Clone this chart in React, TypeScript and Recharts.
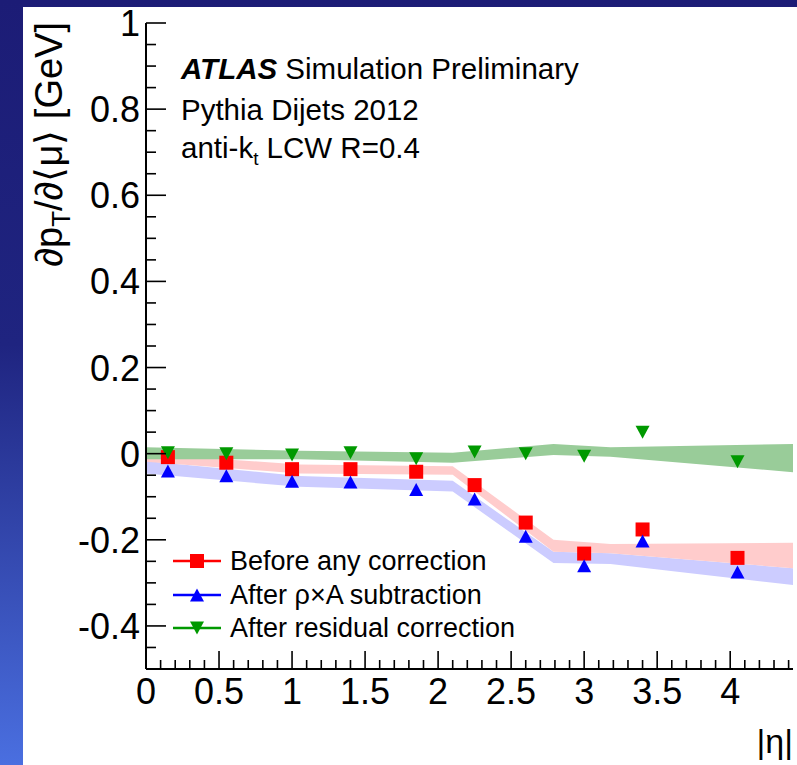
import React from 'react'
import { Area, ComposedChart, Scatter, XAxis, YAxis } from 'recharts'

// |eta| bin centres and the three sets of points
const ETA_POINTS = [0.15, 0.55, 1.0, 1.4, 1.85, 2.25, 2.6, 3.0, 3.4, 4.05]
const BEFORE_CORR = [-0.008, -0.021, -0.036, -0.036, -0.042, -0.073, -0.16, -0.232, -0.176, -0.242]
const AFTER_RHOA = [-0.04, -0.051, -0.064, -0.066, -0.083, -0.105, -0.192, -0.26, -0.203, -0.275]
const AFTER_RESID = [0.002, 0.0, -0.003, 0.002, -0.012, 0.004, 0.0, -0.006, 0.05, -0.019]

// uncertainty bands (vertices along |eta|)
const BAND_ETA = [0, 1.05, 2.1, 2.79, 3.18, 4.43]
const GREEN_LO = [-0.013, -0.013, -0.021, -0.003, -0.007, -0.043]
const GREEN_HI = [0.015, 0.007, 0.002, 0.0225, 0.015, 0.0225]
const RED_LO = [-0.019, -0.046, -0.049, -0.228, -0.231, -0.266]
const RED_HI = [0.0, -0.025, -0.029, -0.2, -0.21, -0.207]
const BLUE_LO = [-0.046, -0.077, -0.088, -0.254, -0.256, -0.305]
const BLUE_HI = [-0.017, -0.052, -0.063, -0.228, -0.231, -0.266]

const X_LABELS = [0, 0.5, 1, 1.5, 2, 2.5, 3, 3.5, 4]
const Y_LABELS = [-0.4, -0.2, 0, 0.2, 0.4, 0.6, 0.8, 1]

const LEGEND_NAMES = ['Before any correction', 'After \u03c1\u00d7A subtraction', 'After residual correction']

const FONT = '"Liberation Sans", Arial, Helvetica, sans-serif'

const X_DOMAIN: [number, number] = [0, 4.43]
const Y_DOMAIN: [number, number] = [-0.5, 1]

// minor ticks every 0.1 in x and 0.05 in y
const xTicks: number[] = []
for (let k = 0; k <= 44; k++) xTicks.push(k / 10)
const yTicks: number[] = []
for (let k = -10; k <= 20; k++) yTicks.push(k / 20)

const isMajor = (v: number, list: number[]) => list.some((m) => Math.abs(m - v) < 1e-9)

const bandRows = BAND_ETA.map((eta, i) => ({
  eta,
  green: [GREEN_LO[i], GREEN_HI[i]],
  red: [RED_LO[i], RED_HI[i]],
  blue: [BLUE_LO[i], BLUE_HI[i]],
}))

const toPoints = (vals: number[]) => ETA_POINTS.map((eta, i) => ({ eta, v: vals[i] }))

const RED = '#ff0000'
const BLUE = '#0000ff'
const GREEN = '#009900'

function Square({ cx, cy, color = RED }: any) {
  return <rect x={cx - 7} y={cy - 7} width={14} height={14} fill={color} />
}
function TriUp({ cx, cy, color = BLUE }: any) {
  return <path d={`M${cx - 7},${cy + 6.5}L${cx + 7},${cy + 6.5}L${cx},${cy - 6.5}Z`} fill={color} />
}
function TriDown({ cx, cy, color = GREEN }: any) {
  return <path d={`M${cx - 7},${cy - 6.5}L${cx + 7},${cy - 6.5}L${cx},${cy + 6.5}Z`} fill={color} />
}

const fmt = (v: number) => (Math.abs(v) < 1e-9 ? '0' : String(v))

function BottomTick({ x, y, payload }: any) {
  const major = isMajor(payload.value, X_LABELS)
  return (
    <g>
      <line x1={x} x2={x} y1={y} y2={y - (major ? 18 : 9)} stroke="#000" strokeWidth={1.6} />
      {major && (
        <text x={x} y={y + 35} textAnchor="middle" fontSize={36} fontFamily={FONT} fill="#000">
          {fmt(payload.value)}
        </text>
      )}
    </g>
  )
}
function TopTick({ x, y, payload }: any) {
  const major = isMajor(payload.value, X_LABELS)
  return <line x1={x} x2={x} y1={y} y2={y + (major ? 18 : 9)} stroke="#000" strokeWidth={1.6} />
}
function LeftTick({ x, y, payload }: any) {
  const major = isMajor(payload.value, Y_LABELS)
  return (
    <g>
      <line x1={x} x2={x + (major ? 20 : 10)} y1={y} y2={y} stroke="#000" strokeWidth={1.6} />
      {major && (
        <text x={x - 6} y={y + 13} textAnchor="end" fontSize={36} fontFamily={FONT} fill="#000">
          {fmt(payload.value)}
        </text>
      )}
    </g>
  )
}
function RightTick({ x, y, payload }: any) {
  const major = isMajor(payload.value, Y_LABELS)
  return <line x1={x} x2={x - (major ? 20 : 10)} y1={y} y2={y} stroke="#000" strokeWidth={1.6} />
}

const axisLine = { stroke: '#000', strokeWidth: 2 }

export default function App() {
  const legendColors = [RED, BLUE, GREEN]
  const legendMarkers = [Square, TriUp, TriDown]
  const legendY = [561, 595, 628]
  return (
    <div
      style={{
        position: 'absolute',
        left: 0,
        top: 0,
        width: 797,
        height: 765,
        overflow: 'hidden',
        background: 'linear-gradient(to bottom, #1c1c76 0%, #1f2480 45%, #4a6fe0 100%)',
      }}
    >
      <div style={{ position: 'absolute', left: 23, top: 7, width: 774, height: 758, background: '#fff' }} />
      <div style={{ position: 'absolute', left: 0, top: 0 }}>
        <ComposedChart width={797} height={765} data={bandRows} margin={{ top: 23, right: 4, bottom: 56, left: 46 }}>
          <XAxis
            dataKey="eta"
            type="number"
            domain={X_DOMAIN}
            ticks={xTicks}
            interval={0}
            allowDataOverflow
            height={40}
            tickSize={0}
            tickMargin={0}
            tickLine={false}
            axisLine={axisLine}
            tick={BottomTick}
          />
          <XAxis
            xAxisId="top"
            orientation="top"
            type="number"
            domain={X_DOMAIN}
            ticks={xTicks}
            interval={0}
            allowDataOverflow
            height={0}
            tickSize={0}
            tickMargin={0}
            tickLine={false}
            axisLine={axisLine}
            tick={TopTick}
          />
          <YAxis
            type="number"
            domain={Y_DOMAIN}
            ticks={yTicks}
            interval={0}
            allowDataOverflow
            width={100}
            tickSize={0}
            tickMargin={0}
            tickLine={false}
            axisLine={axisLine}
            tick={LeftTick}
          />
          <YAxis
            yAxisId="right"
            orientation="right"
            type="number"
            domain={Y_DOMAIN}
            ticks={yTicks}
            interval={0}
            allowDataOverflow
            width={0}
            tickSize={0}
            tickMargin={0}
            tickLine={false}
            axisLine={axisLine}
            tick={RightTick}
          />
          <Area type="linear" dataKey="blue" stroke="none" fill="#ccccff" fillOpacity={1} isAnimationActive={false} />
          <Area type="linear" dataKey="red" stroke="none" fill="#ffcccc" fillOpacity={1} isAnimationActive={false} />
          <Area type="linear" dataKey="green" stroke="none" fill="#99cc99" fillOpacity={1} isAnimationActive={false} />
          <Scatter data={toPoints(BEFORE_CORR)} dataKey="v" shape={Square} isAnimationActive={false} />
          <Scatter data={toPoints(AFTER_RHOA)} dataKey="v" shape={TriUp} isAnimationActive={false} />
          <Scatter data={toPoints(AFTER_RESID)} dataKey="v" shape={TriDown} isAnimationActive={false} />
        </ComposedChart>
      </div>
      <svg width={797} height={765} style={{ position: 'absolute', left: 0, top: 0 }} fontFamily={FONT}>
        <text x={181} y={79} fontSize={29.5} fill="#000">
          <tspan fontWeight="bold" fontStyle="italic">ATLAS</tspan> Simulation Preliminary
        </text>
        <text x={181} y={120} fontSize={29.5} fill="#000">
          Pythia Dijets 2012
        </text>
        <text x={181} y={158} fontSize={29.5} fill="#000">
          anti-k<tspan fontSize={19} dy={7}>t</tspan>
          <tspan dy={-7}> LCW R=0.4</tspan>
        </text>
        {LEGEND_NAMES.map((name, i) => {
          const M = legendMarkers[i]
          return (
            <g key={name}>
              <line x1={173} x2={221} y1={legendY[i]} y2={legendY[i]} stroke={legendColors[i]} strokeWidth={2.5} />
              <M cx={197} cy={legendY[i]} color={legendColors[i]} />
              <text x={230} y={legendY[i] + 9} fontSize={27} fill="#000">
                {name}
              </text>
            </g>
          )
        })}
        <text x={62} y={22} transform="rotate(-90 62 22)" textAnchor="end" fontSize={38} fill="#000">
          ∂p<tspan fontSize={26} dy={8}>T</tspan>
          <tspan dy={-8}>/∂⟨μ⟩ [GeV]</tspan>
        </text>
        <text x={793} y={753} textAnchor="end" fontSize={34} fill="#000">
          |η|
        </text>
      </svg>
    </div>
  )
}
